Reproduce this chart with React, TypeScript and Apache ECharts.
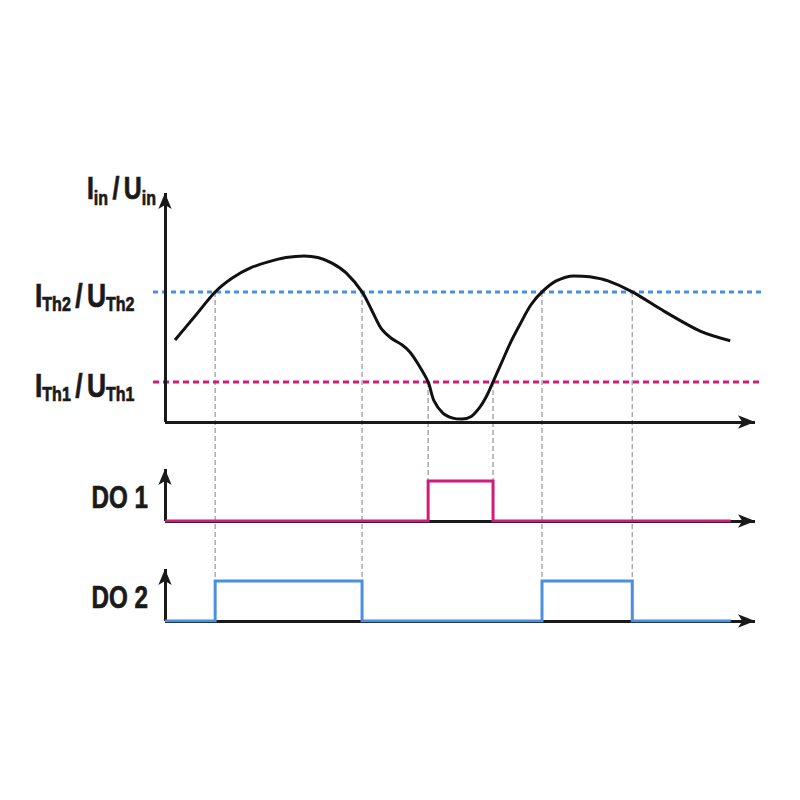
import React, { useEffect, useRef } from "react";
import * as echarts from "echarts";

// ---- data ----
const curveTime = [1.7, 5.1, 8.5, 11.4, 14.4, 17.5, 20.5, 23.6, 25.9, 28.3, 30.7, 33.4, 35.1, 36.6, 38.3, 40.2, 41.5, 42.9, 44.6, 45.6, 47.1, 48.8, 50.3, 51.9, 53.4, 54.6, 55.6, 57.1, 58.6, 60.2, 62.0, 63.9, 66.3, 69.3, 72.0, 75.1, 79.2, 84.7, 90.7, 95.8];
const curveValue = [35.8, 46.3, 56.8, 62.9, 67.2, 69.9, 71.8, 72.5, 71.8, 69.4, 65.1, 56.8, 48.5, 41.0, 36.7, 33.6, 30.6, 25.3, 17.5, 9.2, 3.9, 1.7, 1.3, 2.4, 6.6, 11.8, 17.5, 26.2, 34.9, 42.8, 51.1, 56.8, 61.6, 63.8, 63.4, 61.6, 56.8, 48.2, 39.7, 35.5];

const thresholdNames = ["Th2", "Th1"];
const thresholdValues = [56.8, 17.5];

const do1Time = [0, 44.6, 44.6, 55.6, 55.6, 95.9];
const do1Level = [0, 0, 1, 1, 0, 0];
const do2Time = [0, 8.5, 8.5, 33.4, 33.4, 63.9, 63.9, 79.2, 79.2, 95.9];
const do2Level = [0, 0, 1, 1, 0, 0, 1, 1, 0, 0];

// switching instants: time, threshold index, output panel
const guideTime = [8.5, 33.4, 44.6, 55.6, 63.9, 79.2];
const guideThreshold = [0, 0, 1, 1, 0, 0];
const guidePanel = [2, 2, 1, 1, 2, 2];

const outputNames = ["DO 1", "DO 2"];

// ---- styles ----
const AXIS = "#1a1a1a";
const BLUE = "#4a90e2";
const PINK = "#d21a7d";
const GUIDE = "#ababab";
const FONT = "'Liberation Sans', Arial, sans-serif";
const thresholdColors = [BLUE, PINK];
const thresholdDash = [[5, 4], [6, 4]];

let measureCtx: CanvasRenderingContext2D | null = null;
function measure(text: string, size: number) {
  if (!measureCtx) measureCtx = document.createElement("canvas").getContext("2d");
  measureCtx!.font = `bold ${size}px ${FONT}`;
  return measureCtx!.measureText(text).width;
}

type Part = [string, boolean];
function label(parts: Part[], anchorX: number, baseline: number, alignRight: boolean, mainSize: number, subSize: number, subDrop: number, scale: number) {
  let cursor = 0;
  const children: any[] = [];
  parts.forEach(([text, isSub]) => {
    const fs = isSub ? subSize : mainSize;
    const w = measure(text, fs);
    if (text.trim() !== "") {
      const bl = isSub ? subDrop : 0;
      children.push({
        type: "text",
        x: cursor,
        y: bl - 0.3465 * fs,
        silent: true,
        style: {
          text,
          fontSize: fs,
          fontWeight: "bold",
          fontFamily: FONT,
          fill: AXIS,
          stroke: AXIS,
          lineWidth: 0.7,
          align: "left",
          textAlign: "left",
          verticalAlign: "middle",
          textVerticalAlign: "middle",
        },
      });
    }
    cursor += w;
  });
  const total = cursor * scale;
  return {
    type: "group",
    x: alignRight ? anchorX - total : anchorX,
    y: baseline,
    scaleX: scale,
    children,
  };
}

export default function App() {
  const ref = useRef<HTMLDivElement>(null);
  useEffect(() => {
    document.body.style.margin = "0";
    const chart = echarts.init(ref.current!, null, { renderer: "svg" });

    const arrowLine = (size: number[]) => ({
      show: true,
      onZero: false,
      symbol: ["none", "arrow"],
      symbolSize: size,
      lineStyle: { color: AXIS, width: 3, cap: "butt" },
    });
    const hidden = { axisTick: { show: false }, axisLabel: { show: false }, splitLine: { show: false } };

    const option: any = {
      animation: false,
      backgroundColor: "#ffffff",
      grid: [
        { left: 165, right: 45, top: 193, height: 229 },
        { left: 165, right: 45, top: 469, height: 52 },
        { left: 165, right: 45, top: 569, height: 52 },
        { left: 153, right: 38, top: 193, height: 229 },
      ],
      xAxis: [
        { type: "value", gridIndex: 0, min: 0, max: 100, axisLine: arrowLine([10, 17]), ...hidden },
        { type: "value", gridIndex: 1, min: 0, max: 100, axisLine: arrowLine([10, 17]), ...hidden },
        { type: "value", gridIndex: 2, min: 0, max: 100, axisLine: arrowLine([10, 17]), ...hidden },
        { type: "value", gridIndex: 3, min: 0, max: 1, show: false },
      ],
      yAxis: [
        { type: "value", gridIndex: 0, min: 0, max: 100, axisLine: arrowLine([10, 16]), z: 5, ...hidden },
        { type: "value", gridIndex: 1, min: 0, max: 1.3, axisLine: arrowLine([10, 16]), ...hidden },
        { type: "value", gridIndex: 2, min: 0, max: 1.3, axisLine: arrowLine([10, 16]), ...hidden },
        { type: "value", gridIndex: 3, min: 0, max: 100, show: false },
      ],
      series: [
        ...thresholdValues.map((v, i) => ({
          type: "line",
          name: thresholdNames[i],
          xAxisIndex: 3,
          yAxisIndex: 3,
          data: [[0, v], [1, v]],
          showSymbol: false,
          silent: true,
          z: 1,
          lineStyle: { color: thresholdColors[i], width: 3, type: thresholdDash[i], cap: "butt" },
        })),
        {
          type: "line",
          name: "input",
          xAxisIndex: 0,
          yAxisIndex: 0,
          data: curveTime.map((t, i) => [t, curveValue[i]]),
          smooth: 0.3,
          showSymbol: false,
          silent: true,
          z: 3,
          lineStyle: { color: "#111111", width: 3 },
        },
        {
          type: "line",
          name: outputNames[0],
          xAxisIndex: 1,
          yAxisIndex: 1,
          data: do1Time.map((t, i) => [t, do1Level[i]]),
          showSymbol: false,
          silent: true,
          z: 3,
          lineStyle: { color: PINK, width: 3, join: "miter", cap: "butt" },
        },
        {
          type: "line",
          name: outputNames[1],
          xAxisIndex: 2,
          yAxisIndex: 2,
          data: do2Time.map((t, i) => [t, do2Level[i]]),
          showSymbol: false,
          silent: true,
          z: 3,
          lineStyle: { color: BLUE, width: 3, join: "miter", cap: "butt" },
        },
      ],
    };
    chart.setOption(option);

    const guides = guideTime.map((t, i) => {
      const top = chart.convertToPixel({ gridIndex: 0 } as any, [t, thresholdValues[guideThreshold[i]]]) as number[];
      const bottom = chart.convertToPixel({ gridIndex: guidePanel[i] } as any, [t, 1]) as number[];
      return {
        type: "line",
        silent: true,
        z: 0,
        shape: { x1: top[0], y1: top[1], x2: bottom[0], y2: bottom[1] },
        style: { stroke: GUIDE, lineWidth: 1.5, lineDash: [5, 3] },
      };
    });

    const SCALE = 0.8;
    const labels: any[] = [];
    labels.push(
      label([["I", false], ["in", true], [" ", true], ["/", false], [" ", true], ["U", false], ["in", true]], 156, 199, true, 31, 20, 6, SCALE)
    );
    thresholdValues.forEach((v, i) => {
      const y = (chart.convertToPixel({ gridIndex: 0 } as any, [0, v]) as number[])[1];
      const n = thresholdNames[i];
      labels.push(
        label([["I", false], [n, true], [" ", true], ["/", false], [" ", true], ["U", false], [n, true]], 35, y + 15, false, 33, 20, 4, SCALE)
      );
    });
    outputNames.forEach((name, i) => {
      const y = (chart.convertToPixel({ gridIndex: i + 1 } as any, [0, 0]) as number[])[1];
      labels.push(label([[name, false]], 148, y - 13, true, 31, 20, 0, 0.78));
    });

    chart.setOption({ graphic: [...guides, ...labels] });

    return () => chart.dispose();
  }, []);
  return <div ref={ref} style={{ position: "absolute", left: 0, top: 0, width: 800, height: 800 }} />;
}
